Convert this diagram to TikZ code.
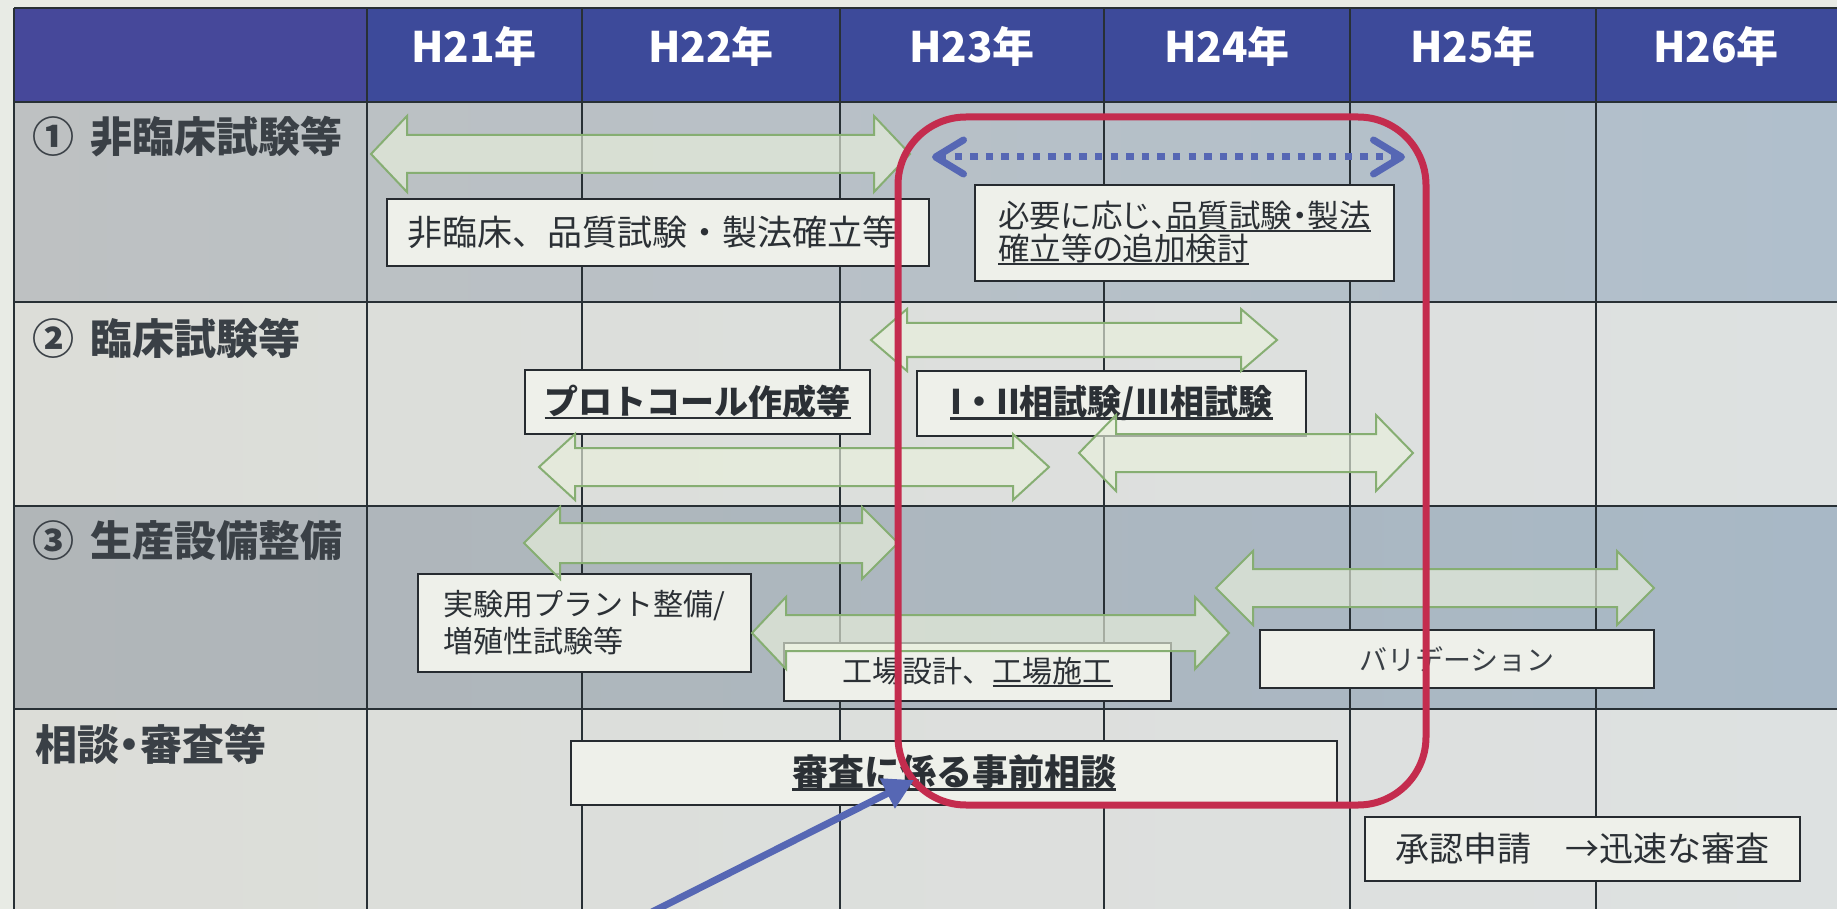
\documentclass[tikz,border=0pt]{standalone}
\usepackage{fontspec}
\setmainfont{Noto Sans CJK JP}
\newfontfamily\jpp[RawFeature=+palt]{Noto Sans CJK JP}
\usetikzlibrary{arrows.meta}
\definecolor{bgm}{HTML}{E8EBE5}
\definecolor{hdr}{HTML}{3D4A9A}
\definecolor{hdrl}{HTML}{46489A}
\definecolor{rAl}{HTML}{BEC1C2}
\definecolor{rAr}{HTML}{B0BFCC}
\definecolor{rBl}{HTML}{DCDDD8}
\definecolor{rBr}{HTML}{DDE1E1}
\definecolor{rCl}{HTML}{B1B6B8}
\definecolor{rCr}{HTML}{A8B8C6}
\definecolor{gridc}{HTML}{283035}
\definecolor{labelgray}{HTML}{3A4046}
\definecolor{boxline}{HTML}{262B30}
\definecolor{boxfill}{HTML}{EEF0EA}
\definecolor{boxtext}{HTML}{2B3035}
\definecolor{gline}{HTML}{86AE72}
\definecolor{gfill}{HTML}{E9F0DC}
\definecolor{bluec}{HTML}{5667B4}
\definecolor{redc}{HTML}{C42C4E}
\newcommand\ulx[1]{\leavevmode\setbox0=\hbox{#1}\rlap{\rule[-0.14em]{\wd0}{0.07em}}\box0}
\newcommand\garrow[6]{%
  \draw[garrowstyle] (#1,#3) -- (#1+#6,#3-#4) -- (#1+#6,#3-#5) -- (#2-#6,#3-#5)
    -- (#2-#6,#3-#4) -- (#2,#3) -- (#2-#6,#3+#4) -- (#2-#6,#3+#5)
    -- (#1+#6,#3+#5) -- (#1+#6,#3+#4) -- cycle;}
\begin{document}
\begin{tikzpicture}[x=1pt,y=-1pt,
  hdrtext/.style={text=white, font=\bfseries\fontsize{42}{48}\selectfont, inner sep=0pt},
  rowlabel/.style={anchor=west, text=labelgray, font=\bfseries\fontsize{42}{48}\selectfont, inner sep=0pt},
  tbox/.style={draw=boxline, line width=2.5pt, fill=boxfill, text=boxtext, inner sep=0pt},
  garrowstyle/.style={draw=gline, line width=2pt, fill=gfill, fill opacity=0.65},
  gridline/.style={draw=gridc, line width=2pt},
  bluedash/.style={draw=bluec, line width=7pt, dash pattern=on 7.3pt off 8.3pt,
    arrows={Straight Barb[length=28pt,width=34pt,line width=7pt,round]-Straight Barb[length=28pt,width=34pt,line width=7pt,round]}},
  bluearrow/.style={draw=bluec, line width=7pt, arrows={-Triangle[length=30pt,width=32pt]}},
  focusbox/.style={draw=redc, line width=7pt, rounded corners=68pt, inner sep=0pt}
]
\useasboundingbox (0,0) rectangle (1837,909);
% backgrounds
\fill[bgm] (0,0) rectangle (1837,909);
\fill[hdr] (14,8) rectangle (1837,102);
\fill[hdrl] (14,8) rectangle (367,102);
\shade[left color=rAl, right color=rAr] (14,102) rectangle (1837,302);
\shade[left color=rBl, right color=rBr] (14,302) rectangle (1837,506);
\shade[left color=rCl, right color=rCr] (14,506) rectangle (1837,709);
\shade[left color=rBl, right color=rBr] (14,709) rectangle (1837,909);
% grid
\foreach \yy in {8,102,302,506,709} \draw[gridline] (14,\yy) -- (1837,\yy);
\foreach \xx in {14,367,582,840,1104,1350,1596} \draw[gridline] (\xx,8) -- (\xx,909);
% header
\node[hdrtext] (h21) at (474,46) {H21年};
\node[hdrtext] (h22) at (711,46) {H22年};
\node[hdrtext] (h23) at (972,46) {H23年};
\node[hdrtext] (h24) at (1227,46) {H24年};
\node[hdrtext] (h25) at (1473,46) {H25年};
\node[hdrtext] (h26) at (1716,46) {H26年};
% row labels
\node[rowlabel] (l1) at (32,137) {①\hspace{0.4em}非臨床試験等};
\node[rowlabel] (l2) at (32,338) {②\hspace{0.4em}臨床試験等};
\node[rowlabel] (l3) at (32,541) {③\hspace{0.4em}生産設備整備};
\node[rowlabel, font=\jpp\bfseries\fontsize{42}{48}\selectfont] (l4) at (35,744) {相談・審査等};
% boxes
\node[tbox, minimum width=542pt, minimum height=67pt, inner xsep=20pt, text width=502pt, align=left, font=\fontsize{35}{40}\selectfont] (hirinsho) at (658,232.5) {非臨床、品質試験・製法確立等};
\node[tbox, minimum width=419pt, minimum height=96pt, align=left, font=\jpp\fontsize{31.5}{33}\selectfont] (tsuika) at (1184.5,233) {必要に応じ、\ulx{品質試験・製法}\\\ulx{確立等の追加検討}};
\node[tbox, minimum width=345pt, minimum height=64pt, font=\bfseries\fontsize{34}{40}\selectfont] (proto) at (697.5,402) {\ulx{プロトコール作成等}};
\node[tbox, minimum width=389pt, minimum height=65pt, font=\bfseries\fontsize{34}{40}\selectfont] (soshiken) at (1111.5,403.5) {\ulx{I・II相試験/III相試験}};
\node[tbox, minimum width=333pt, minimum height=98pt, align=left, font=\fontsize{30}{37}\selectfont] (jikken) at (584.5,623) {実験用プラント整備/\\増殖性試験等};
\node[tbox, minimum width=387pt, minimum height=58pt, font=\fontsize{30}{36}\selectfont] (kojo) at (977.5,672) {工場設計、\ulx{工場施工}};
\node[tbox, minimum width=394pt, minimum height=58pt, font=\fontsize{28}{34}\selectfont, text=labelgray] (vali) at (1457,659) {バリデーション};
\node[tbox, minimum width=766pt, minimum height=64pt, font=\bfseries\fontsize{36}{42}\selectfont] (shinsa) at (954,773) {\ulx{審査に係る事前相談}};
\node[tbox, minimum width=435pt, minimum height=64pt, font=\fontsize{34}{40}\selectfont] (shonin) at (1582.5,849) {承認申請　→迅速な審査};
% green arrows
\garrow{371}{910}{154}{38}{19}{36}
\garrow{871}{1277}{340}{31}{17}{36}
\garrow{539}{1049}{467}{33}{19}{36}
\garrow{1079}{1413}{453}{38}{19}{37}
\garrow{524}{898}{543}{36}{20}{36}
\garrow{752}{1229}{633}{36}{18}{34}
\garrow{1216}{1654}{588}{37}{19}{37}
% blue dashed arrow
\coordinate (dl) at (932,157);
\coordinate (dr) at (1405,157);
\draw[bluedash] (dl) -- (dr);
% red focus box
\node[focusbox, minimum width=528pt, minimum height=688pt] (focus) at (1162,461) {};
% blue arrow
\coordinate (btail) at (652,912);
\coordinate (btip) at (914,780);
\draw[bluearrow] (btail) -- (btip);
\end{tikzpicture}
\end{document}
